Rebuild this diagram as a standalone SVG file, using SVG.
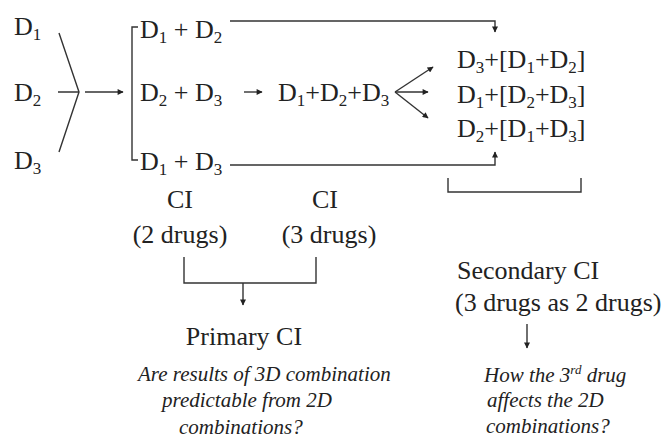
<svg xmlns="http://www.w3.org/2000/svg" width="667" height="440" viewBox="0 0 667 440">
<style>
text{font-family:'Liberation Serif','Tinos','DejaVu Serif',serif;font-size:26px;fill:#222}
.s{font-size:17px}
.sup{font-size:13px}
.it{font-style:italic;font-size:21px}
.ln{fill:none;stroke:#333;stroke-width:1.4}
</style>
<defs>
<marker id="ah" viewBox="0 0 10 10" refX="9" refY="5" markerWidth="7" markerHeight="6" orient="auto" markerUnits="userSpaceOnUse">
<path d="M0,0 L10,5 L0,10 z" fill="#222"/>
</marker>
</defs>
<g id="connectors">
<path class="ln" d="M59 33 L79 92 L59 152 M58 92 H79"/>
<path class="ln" d="M85 92 H123" marker-end="url(#ah)"/>
<path class="ln" d="M138 27 H132 V160 H138"/>
<path class="ln" d="M230 21 H495 V32" marker-end="url(#ah)"/>
<path class="ln" d="M230 165 H495 V152" marker-end="url(#ah)"/>
<path class="ln" d="M244 92 H262" marker-end="url(#ah)"/>
<path class="ln" d="M395 92 L433 67" marker-end="url(#ah)"/>
<path class="ln" d="M395 92 L428 92" marker-end="url(#ah)"/>
<path class="ln" d="M395 92 L428 118" marker-end="url(#ah)"/>
<path class="ln" d="M448 178 V192 H581 V178"/>
<path class="ln" d="M184 257 V283 H316 V257"/>
<path class="ln" d="M243 283 V305" marker-end="url(#ah)"/>
<path class="ln" d="M527 324 V348" marker-end="url(#ah)"/>
</g>
<g id="d1"><text x="14" y="35">D<tspan class="s" dy="5">1</tspan></text></g>
<g id="d2"><text x="14" y="101">D<tspan class="s" dy="5">2</tspan></text></g>
<g id="d3"><text x="14" y="169">D<tspan class="s" dy="5">3</tspan></text></g>
<g id="p12"><text x="140" y="38">D<tspan class="s" dy="5">1</tspan><tspan dy="-5"> + D</tspan><tspan class="s" dy="5">2</tspan></text></g>
<g id="p23"><text x="140" y="101">D<tspan class="s" dy="5">2</tspan><tspan dy="-5"> + D</tspan><tspan class="s" dy="5">3</tspan></text></g>
<g id="p13"><text x="140" y="170">D<tspan class="s" dy="5">1</tspan><tspan dy="-5"> + D</tspan><tspan class="s" dy="5">3</tspan></text></g>
<g id="p123"><text x="278" y="101">D<tspan class="s" dy="5">1</tspan><tspan dy="-5">+D</tspan><tspan class="s" dy="5">2</tspan><tspan dy="-5">+D</tspan><tspan class="s" dy="5">3</tspan></text></g>
<g id="r1"><text x="457" y="68">D<tspan class="s" dy="5">3</tspan><tspan dy="-5">+[D</tspan><tspan class="s" dy="5">1</tspan><tspan dy="-5">+D</tspan><tspan class="s" dy="5">2</tspan><tspan dy="-5">]</tspan></text></g>
<g id="r2"><text x="457" y="103">D<tspan class="s" dy="5">1</tspan><tspan dy="-5">+[D</tspan><tspan class="s" dy="5">2</tspan><tspan dy="-5">+D</tspan><tspan class="s" dy="5">3</tspan><tspan dy="-5">]</tspan></text></g>
<g id="r3"><text x="457" y="137">D<tspan class="s" dy="5">2</tspan><tspan dy="-5">+[D</tspan><tspan class="s" dy="5">1</tspan><tspan dy="-5">+D</tspan><tspan class="s" dy="5">3</tspan><tspan dy="-5">]</tspan></text></g>
<g id="ci2"><text x="180" y="208" text-anchor="middle">CI</text><text x="180" y="243" text-anchor="middle">(2 drugs)</text></g>
<g id="ci3"><text x="325" y="208" text-anchor="middle">CI</text><text x="329" y="243" text-anchor="middle">(3 drugs)</text></g>
<g id="primary">
<text x="244" y="345" text-anchor="middle">Primary CI</text>
<text class="it" x="138" y="381">Are results of 3D combination</text>
<text class="it" x="162" y="407">predictable from 2D</text>
<text class="it" x="179" y="434">combinations?</text>
</g>
<g id="secondary">
<text x="457" y="279">Secondary CI</text>
<text x="455" y="311">(3 drugs as 2 drugs)</text>
<text class="it" x="484" y="382">How the 3<tspan class="sup" dy="-8">rd</tspan><tspan dy="8"> drug</tspan></text>
<text class="it" x="487" y="407">affects the 2D</text>
<text class="it" x="486" y="433">combinations?</text>
</g>
</svg>
